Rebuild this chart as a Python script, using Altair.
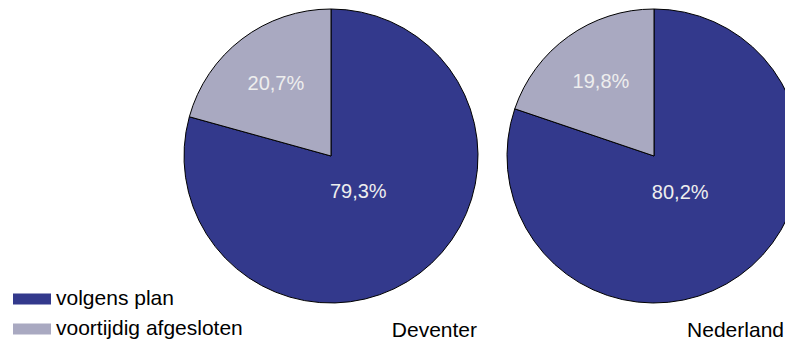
import altair as alt
import pandas as pd

regions = ["Deventer", "Nederland"]
categories = ["volgens plan", "voortijdig afgesloten"]
deventer_values = [79.3, 20.7]
nederland_values = [80.2, 19.8]
deventer_labels = ["79,3%", "20,7%"]
nederland_labels = ["80,2%", "19,8%"]
colors = ["#33398C", "#A9A9C1"]

rows = []
for region, vals, labs in [
    (regions[0], deventer_values, deventer_labels),
    (regions[1], nederland_values, nederland_labels),
]:
    for i, (cat, v, lab) in enumerate(zip(categories, vals, labs)):
        rows.append({"region": region, "category": cat, "value": v, "label": lab, "order": i})
df = pd.DataFrame(rows)

FONT = "Liberation Sans"

xpie = alt.X("region:N", axis=None,
             scale=alt.Scale(type="point", domain=regions, range=[323, 646], padding=0))
theta_scale = alt.Scale(domain=[0, 100])

base = alt.Chart(df).transform_window(
    end="sum(value)", groupby=["region"], sort=[alt.SortField("order")], frame=[None, 0]
).transform_calculate(
    start="datum.end - datum.value", mid="datum.end - datum.value / 2"
)

arcs = base.mark_arc(radius=147, stroke="black", strokeWidth=1).encode(
    x=xpie,
    y=alt.value(148),
    theta=alt.Theta("start:Q", scale=theta_scale, stack=None),
    theta2="end:Q",
    color=alt.Color(
        "category:N",
        scale=alt.Scale(domain=categories, range=colors),
        legend=alt.Legend(
            orient="none", legendX=5, legendY=272, title=None,
            symbolType="M-1,-0.29H1V0.29H-1Z", symbolSize=1444,
            symbolStrokeWidth=0, labelFontSize=21, labelFont=FONT,
            labelColor="black", labelOffset=5, labelLimit=400,
            rowPadding=1, padding=0,
        ),
    ),
    order=alt.Order("order:Q"),
)

def pct_layer(cat, r):
    return base.transform_filter(alt.datum.category == cat).mark_text(
        radius=r, font=FONT, fontSize=20, color="#EEEEEE", align="center", baseline="middle"
    ).encode(
        x=xpie,
        y=alt.value(148),
        theta=alt.Theta("mid:Q", scale=theta_scale, stack=None),
        text="label:N",
    )

labels_blue = pct_layer(categories[0], 45)
labels_gray = pct_layer(categories[1], 91)

region_text = alt.Chart(pd.DataFrame({"region": regions})).mark_text(
    align="right", baseline="alphabetic", font=FONT, fontSize=21, color="black"
).encode(
    x=alt.X("region:N", axis=None,
            scale=alt.Scale(type="point", domain=regions, range=[469, 776], padding=0)),
    y=alt.value(329),
    text="region:N",
)

chart = alt.layer(arcs, labels_blue, labels_gray, region_text).resolve_scale(
    x="independent"
).properties(
    width=777, height=333, padding=0, autosize=alt.AutoSizeParams(type="none")
).configure_view(stroke=None)

chart.save("out.html", embed_options={"renderer": "svg", "actions": False})
